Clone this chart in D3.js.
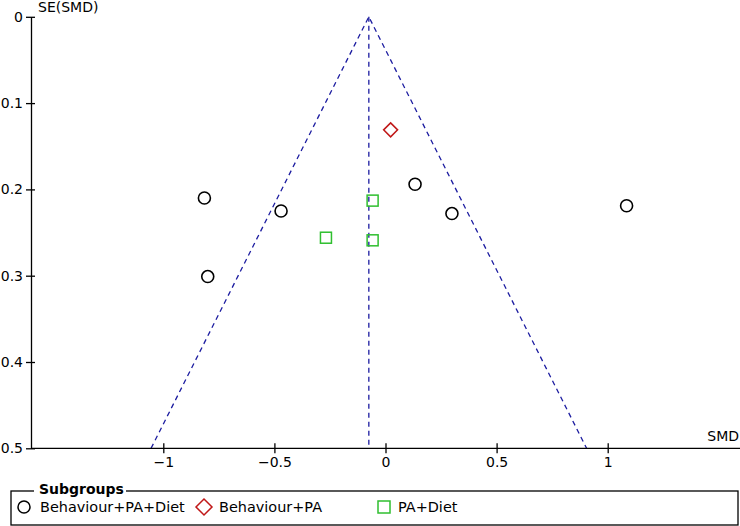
<!DOCTYPE html>
<html><head><meta charset="utf-8">
<script src="https://cdn.jsdelivr.net/npm/d3@7"></script>
<style>body{margin:0;background:#fff;} svg{display:block;font-family:"DejaVu Sans",sans-serif;}</style>
</head><body>
<svg id="c" width="740" height="526"></svg>
<script>
const groups = ["Behaviour+PA+Diet", "Behaviour+PA", "PA+Diet"];
const circleSMD = [-0.815, -0.470, -0.800, 0.133, 0.299, 1.085];
const circleSE  = [0.210, 0.225, 0.301, 0.194, 0.228, 0.219];
const diamondSMD = [0.023];
const diamondSE  = [0.131];
const squareSMD = [-0.058, -0.058, -0.268];
const squareSE  = [0.213, 0.259, 0.256];
const pooledSMD = -0.075;
const xTicks = [-1, -0.5, 0, 0.5, 1];
const yTicks = [0, 0.1, 0.2, 0.3, 0.4, 0.5];

const svg = d3.select("#c");
const x = d3.scaleLinear().domain([-1, 1]).range([163.3, 607.7]);
const y = d3.scaleLinear().domain([0, 0.5]).range([16.8, 448.3]);
const xLeft = 31, xRight = 740;

// funnel
const blue = "#1c1ca0";
const seMax = 0.5;
const funnel = [[pooledSMD - 1.96*seMax, seMax],[pooledSMD, 0],[pooledSMD + 1.96*seMax, seMax]];
svg.append("path").attr("d", d3.line().x(d=>x(d[0])).y(d=>y(d[1]))(funnel))
  .attr("fill","none").attr("stroke",blue).attr("stroke-width",1.3).attr("stroke-dasharray","5,4");
svg.append("line").attr("x1",x(pooledSMD)).attr("x2",x(pooledSMD)).attr("y1",y(0)).attr("y2",y(seMax))
  .attr("stroke",blue).attr("stroke-width",1.3).attr("stroke-dasharray","5,4");

// axes
const yAxis = svg.append("g").attr("transform",`translate(${xLeft},0)`)
  .call(d3.axisLeft(y).tickValues(yTicks).tickFormat(d=>d===0?"0":d3.format(".1f")(d)).tickSizeInner(5).tickSizeOuter(0).tickPadding(3));
yAxis.selectAll(".tick line").attr("x2",4).attr("x1",-5);
const xAxis = svg.append("g").attr("transform",`translate(0,${y(0.5)})`)
  .call(d3.axisBottom(x).tickValues(xTicks).tickFormat(d=>d3.format("")(d).replace("-","−")).tickSizeInner(5).tickSizeOuter(0).tickPadding(4));
xAxis.selectAll(".tick line").attr("y1",-5).attr("y2",5);
xAxis.select(".domain").attr("d",`M${xLeft},0H${xRight}`);
[yAxis, xAxis].forEach(a=>{
  a.selectAll("path,line").attr("stroke","#000").attr("stroke-width",1.3);
  a.selectAll("text").attr("font-size",14).attr("fill","#000").attr("font-family","DejaVu Sans, sans-serif");
});

svg.append("text").attr("x",38).attr("y",12).attr("font-size",14).text("SE(SMD)");
svg.append("text").attr("x",739).attr("y",441).attr("text-anchor","end").attr("font-size",14).text("SMD");

// points
const cData = circleSMD.map((v,i)=>({x:v,y:circleSE[i]}));
svg.selectAll(".pc").data(cData).join("circle").attr("cx",d=>x(d.x)).attr("cy",d=>y(d.y)).attr("r",6)
  .attr("fill","none").attr("stroke","#000").attr("stroke-width",1.6);
const sData = squareSMD.map((v,i)=>({x:v,y:squareSE[i]}));
svg.selectAll(".ps").data(sData).join("rect").attr("x",d=>x(d.x)-5.5).attr("y",d=>y(d.y)-5.5).attr("width",11).attr("height",11)
  .attr("fill","none").attr("stroke","#2fbf2f").attr("stroke-width",1.5);
const dData = diamondSMD.map((v,i)=>({x:v,y:diamondSE[i]}));
const diamond = (cx,cy,r)=>`M${cx},${cy-r}L${cx+r},${cy}L${cx},${cy+r}L${cx-r},${cy}Z`;
svg.selectAll(".pd").data(dData).join("path").attr("d",d=>diamond(x(d.x),y(d.y),7))
  .attr("fill","none").attr("stroke","#c01818").attr("stroke-width",1.5);

// legend
const lg = svg.append("g");
lg.append("rect").attr("x",11).attr("y",491).attr("width",727).attr("height",34).attr("fill","none").attr("stroke","#000").attr("stroke-width",1.3);
lg.append("rect").attr("x",34).attr("y",480).attr("width",92).attr("height",16).attr("fill","#fff");
lg.append("text").attr("x",39).attr("y",494).attr("font-size",14).attr("font-weight","bold").text("Subgroups");
const lx = [24, 204, 384];
const tx = [40, 219, 398];
lg.append("circle").attr("cx",lx[0]).attr("cy",507).attr("r",6).attr("fill","none").attr("stroke","#000").attr("stroke-width",1.5);
lg.append("path").attr("d",diamond(lx[1],507,8)).attr("fill","none").attr("stroke","#c01818").attr("stroke-width",1.5);
lg.append("rect").attr("x",lx[2]-6).attr("y",501).attr("width",12).attr("height",12).attr("fill","none").attr("stroke","#2fbf2f").attr("stroke-width",1.5);
const lt = groups.map((g,i)=>lg.append("text").attr("x",tx[i]).attr("y",512).attr("font-size",16).text(g));
const w0 = lt[0].node().getComputedTextLength();
const fs = 16 * 145 / w0;
lt.forEach(t=>t.attr("font-size",fs));
</script>
</body></html>
